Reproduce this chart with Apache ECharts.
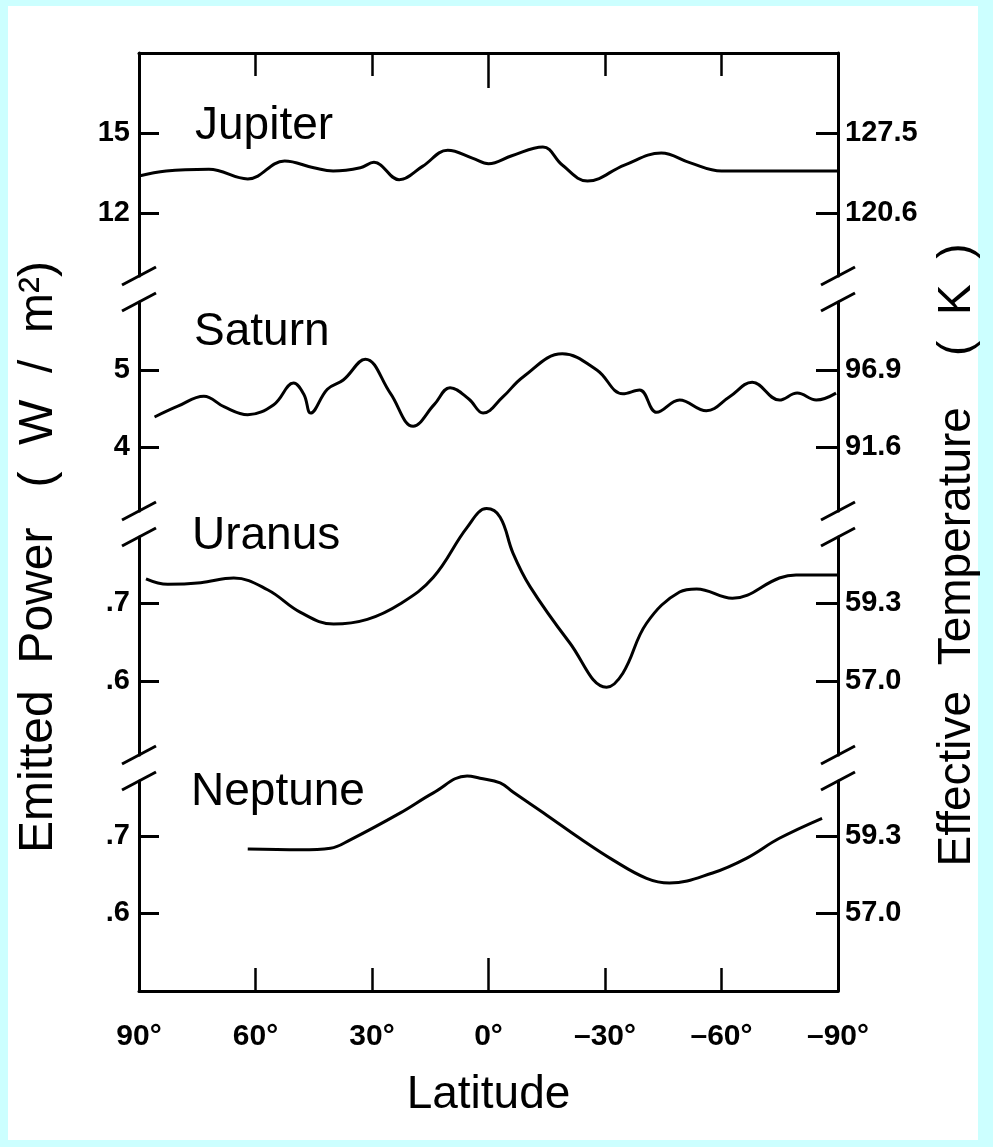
<!DOCTYPE html>
<html><head><meta charset="utf-8">
<style>
html,body{margin:0;padding:0;background:#ccffff;width:993px;height:1147px;overflow:hidden;}
#paper{position:absolute;left:8px;top:6px;width:970px;height:1134px;background:#fff;}
#chart{position:absolute;left:0;top:0;width:993px;height:1147px;}
</style>
<script src="https://cdn.jsdelivr.net/npm/echarts@6/dist/echarts.min.js"></script>
</head><body><div id="paper"></div><div id="chart"></div>
<script>
// ---------- data ----------
const xTicks = [90, 60, 30, 0, -30, -60, -90];
const xTickLabels = ['90°', '60°', '30°', '0°', '–30°', '–60°', '–90°'];
const planets = ['Jupiter', 'Saturn', 'Uranus', 'Neptune'];

const jupiterLat = [90, 83, 72, 62, 52.5, 45, 40, 33, 29.5, 23, 17, 10.5, 4, 0, -6, -14, -19, -25.5, -35, -44.5, -52, -60, -75, -90];
const jupiterPower = [13.39, 13.58, 13.64, 13.28, 13.95, 13.7, 13.58, 13.7, 13.9, 13.25, 13.75, 14.35, 14.05, 13.85, 14.15, 14.48, 13.8, 13.2, 13.8, 14.25, 13.88, 13.58, 13.58, 13.58];

const saturnLat = [86, 80, 73.3, 68, 62, 55.3, 50.2, 47.5, 45.8, 41.5, 37.4, 31.7, 25.3, 19.4, 14, 9.9, 5, 1.4, -3.7, -8.9, -19, -27.9, -34.6, -38.9, -43.3, -49.2, -56.1, -62, -67.9, -74.9, -79.5, -84.4, -89.5];
const saturnPower = [4.39, 4.53, 4.66, 4.52, 4.42, 4.55, 4.83, 4.68, 4.44, 4.75, 4.87, 5.14, 4.70, 4.27, 4.55, 4.77, 4.62, 4.44, 4.65, 4.91, 5.21, 5.0, 4.69, 4.74, 4.45, 4.61, 4.47, 4.65, 4.84, 4.61, 4.70, 4.61, 4.70];

const uranusLat = [88.2, 82.6, 74.1, 65.6, 56.9, 48.4, 39.9, 31.2, 22.7, 14.2, 5.5, 0.5, -3, -6.3, -10.7, -20.9, -30.4, -34.6, -40.7, -49.2, -53.6, -62.8, -74.9, -79.2, -90];
const uranusPower = [0.731, 0.724, 0.726, 0.732, 0.717, 0.688, 0.673, 0.679, 0.699, 0.733, 0.797, 0.821, 0.810, 0.764, 0.721, 0.649, 0.592, 0.610, 0.674, 0.714, 0.718, 0.706, 0.732, 0.736, 0.736];

const neptuneLat = [62, 48.4, 40.7, 35.6, 22.7, 14.2, 5.5, 2.2, -3, -6.3, -15, -23.5, -32, -40.7, -46.6, -57.7, -66.4, -74.9, -85.9];
const neptunePower = [0.683, 0.682, 0.684, 0.695, 0.730, 0.756, 0.778, 0.775, 0.769, 0.757, 0.727, 0.697, 0.669, 0.645, 0.639, 0.652, 0.671, 0.697, 0.723];

const powerTicks = [[12, 15], [4, 5], [0.6, 0.7], [0.6, 0.7]];
const powerTickLabels = [['12', '15'], ['4', '5'], ['.6', '.7'], ['.6', '.7']];
const tempTickLabels = [['120.6', '127.5'], ['91.6', '96.9'], ['57.0', '59.3'], ['57.0', '59.3']];
const powerRanges = [[9.64, 18.0], [3.169, 5.883], [0.5051, 0.7846], [0.4987, 0.7714]];

// ---------- layout ----------
const GL = 139, GR = 838;
const gridTops = [53, 302, 537, 781];
const gridBottoms = [276, 511, 755, 991];
const FONT = '"Liberation Sans", Arial, Helvetica, sans-serif';
const lat = [jupiterLat, saturnLat, uranusLat, neptuneLat];
const pow = [jupiterPower, saturnPower, uranusPower, neptunePower];
const nameBottoms = [149, 355, 559, 815];
const nameX = [195, 194, 192, 191];

const chart = echarts.init(document.getElementById('chart'), null, {renderer: 'canvas'});

const grids = [], xAxes = [], yAxes = [], series = [];
const axisLine = {show: true, onZero: false, lineStyle: {color: '#000', width: 3}};
for (let g = 0; g < 4; g++) {
  grids.push({left: GL, width: GR - GL, top: gridTops[g], height: gridBottoms[g] - gridTops[g], containLabel: false});
  const isTop = g === 0, isBottom = g === 3;
  xAxes.push({
    type: 'value', gridIndex: g, min: -90, max: 90, interval: 30, inverse: true,
    show: isTop || isBottom, position: isTop ? 'top' : 'bottom',
    axisLine: axisLine, splitLine: {show: false},
    axisTick: {show: true, inside: true, length: 23, lineStyle: {color: '#000', width: 2.5}},
    axisLabel: {show: isBottom, margin: 31, color: '#000', fontFamily: FONT, fontSize: 30, fontWeight: 'bold',
      formatter: v => { const i = xTicks.indexOf(v); return i >= 0 ? xTickLabels[i] : ''; }}
  });
  const ticks = powerTicks[g];
  const mk = (labels, pos) => ({
    type: 'value', gridIndex: g, position: pos, min: powerRanges[g][0], max: powerRanges[g][1],
    axisLine: axisLine, splitLine: {show: false},
    axisTick: {show: true, inside: true, length: pos === 'left' ? 20 : 22, customValues: ticks, lineStyle: {color: '#000', width: 3}},
    axisLabel: {show: true, customValues: ticks, margin: pos === 'left' ? 9 : 7, color: '#000', fontFamily: FONT, fontSize: 29, fontWeight: 'bold',
      formatter: v => { let i = ticks.findIndex(t => Math.abs(t - v) < 1e-9); return i >= 0 ? labels[i] : ''; }}
  });
  yAxes.push(mk(powerTickLabels[g], 'left'));
  yAxes.push(mk(tempTickLabels[g], 'right'));
  series.push({
    name: planets[g], type: 'line', xAxisIndex: g, yAxisIndex: 2 * g,
    data: lat[g].map((x, i) => [x, pow[g][i]]),
    showSymbol: false, smooth: 0.4, clip: false, silent: true,
    lineStyle: {color: '#000', width: 3}
  });
}
// longer 0° ticks top & bottom
xAxes.push({type: 'value', gridIndex: 0, min: -90, max: 90, inverse: true, position: 'top',
  axisLine: {show: false, onZero: false}, splitLine: {show: false}, axisLabel: {show: false},
  axisTick: {show: true, inside: true, length: 35, customValues: [0], lineStyle: {color: '#000', width: 2.5}}});
xAxes.push({type: 'value', gridIndex: 3, min: -90, max: 90, inverse: true, position: 'bottom',
  axisLine: {show: false, onZero: false}, splitLine: {show: false}, axisLabel: {show: false},
  axisTick: {show: true, inside: true, length: 33, customValues: [0], lineStyle: {color: '#000', width: 2.5}}});

// graphics: break marks, names, titles
const graphics = [];
for (let b = 0; b < 3; b++) {
  for (const ax of [GL, GR]) {
    for (const y of [gridBottoms[b], gridTops[b + 1]]) {
      graphics.push({type: 'line', silent: true,
        shape: {x1: ax - 17, y1: y + 9, x2: ax + 17, y2: y - 9},
        style: {stroke: '#000', lineWidth: 3}});
    }
  }
}
for (let g = 0; g < 4; g++) {
  graphics.push({type: 'text', x: nameX[g], y: nameBottoms[g], silent: true,
    style: {text: planets[g], font: '46px ' + FONT, fill: '#000', textAlign: 'left', textVerticalAlign: 'bottom'}});
}
graphics.push({type: 'text', x: (GL + GR) / 2, y: 1095, silent: true,
  style: {text: 'Latitude', font: '46px ' + FONT, fill: '#000', textAlign: 'center', textVerticalAlign: 'middle'}});
graphics.push({type: 'text', x: 39, y: 557, rotation: Math.PI / 2, silent: true,
  style: {text: 'Emitted  Power   (  W  /  m²)', font: '48px ' + FONT, fill: '#000', textAlign: 'center', textVerticalAlign: 'middle'}});
graphics.push({type: 'text', x: 957, y: 555, rotation: Math.PI / 2, silent: true,
  style: {text: 'Effective  Temperature    (  K  )', font: '46px ' + FONT, fill: '#000', textAlign: 'center', textVerticalAlign: 'middle'}});

chart.setOption({
  animation: false,
  backgroundColor: 'transparent',
  grid: grids, xAxis: xAxes, yAxis: yAxes, series: series,
  graphic: graphics
});
</script></body></html>
